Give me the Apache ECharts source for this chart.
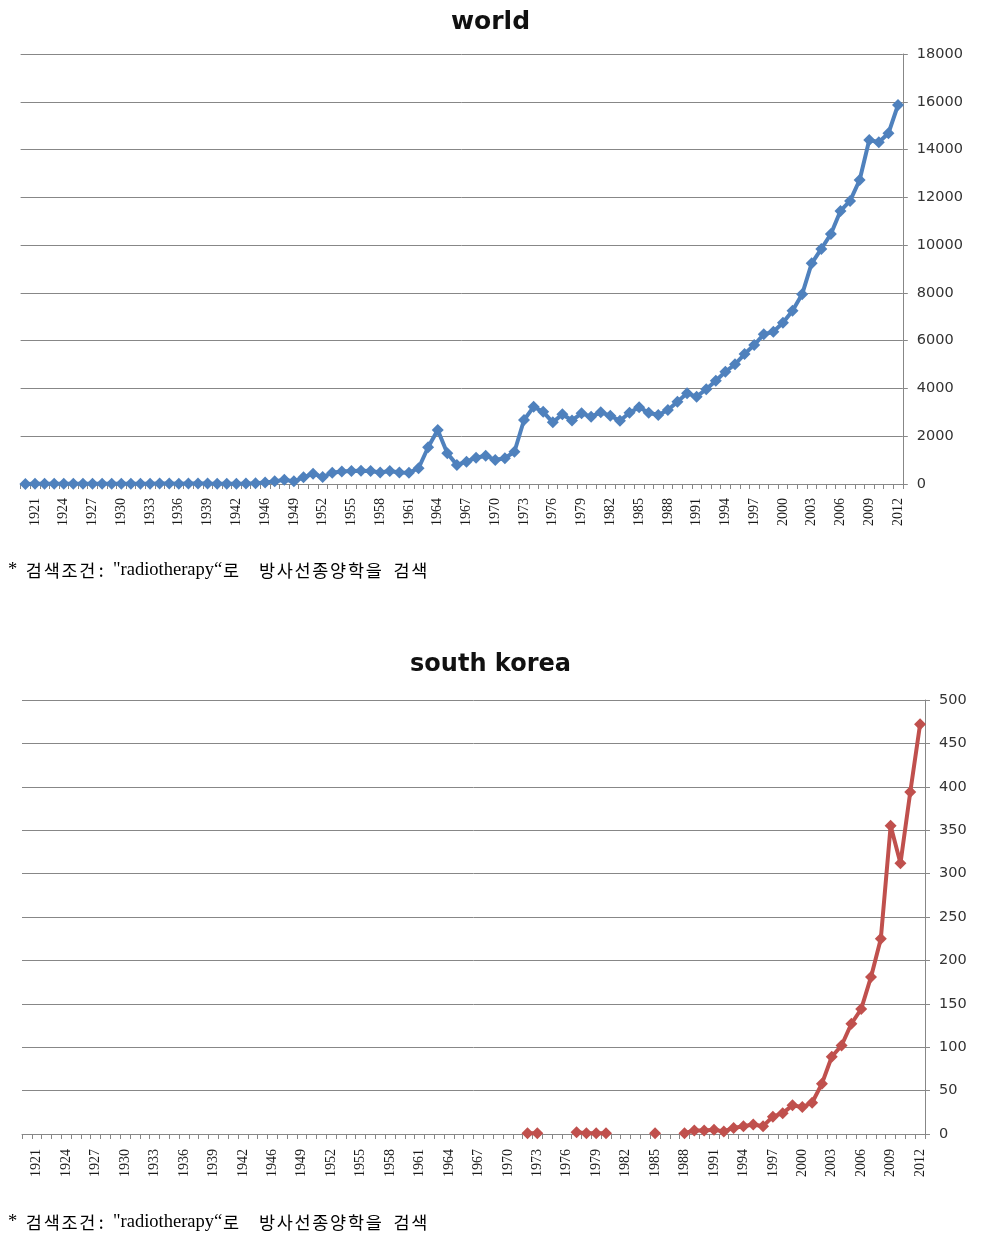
<!DOCTYPE html>
<html>
<head>
<meta charset="utf-8">
<script src="https://cdn.jsdelivr.net/npm/echarts@6/dist/echarts.min.js"></script>
<style>
html,body{margin:0;padding:0;background:#fff;}
#c{width:981px;height:1241px;}
</style>
</head>
<body>
<div id="c"></div>
<script>
// Categories (years; one wartime year absent in source data)
const years = [
'1920','1921','1922','1923','1924','1925','1926','1927','1928','1929',
'1930','1931','1932','1933','1934','1935','1936','1937','1938','1939',
'1940','1941','1942','1943','1945','1946','1947','1948','1949','1950',
'1951','1952','1953','1954','1955','1956','1957','1958','1959','1960',
'1961','1962','1963','1964','1965','1966','1967','1968','1969','1970',
'1971','1972','1973','1974','1975','1976','1977','1978','1979','1980',
'1981','1982','1983','1984','1985','1986','1987','1988','1989','1990',
'1991','1992','1993','1994','1995','1996','1997','1998','1999','2000',
'2001','2002','2003','2004','2005','2006','2007','2008','2009','2010',
'2011','2012'];

const worldValues = [
5,8,6,9,10,8,11,12,10,13,
14,12,15,14,16,18,15,17,19,16,
14,12,15,20,30,60,110,180,110,280,
430,290,470,520,545,550,545,480,540,480,
470,660,1540,2260,1290,800,935,1100,1185,1005,
1080,1350,2680,3230,3020,2580,2920,2660,2960,2820,
3000,2860,2650,2985,3210,2985,2890,3100,3445,3795,
3655,3965,4325,4700,5010,5440,5820,6265,6375,6750,
7255,7940,9240,9840,10465,11430,11850,12725,14400,14305,
14680,15865];

const koreaValues = [
null,null,null,null,null,null,null,null,null,null,
null,null,null,null,null,null,null,null,null,null,
null,null,null,null,null,null,null,null,null,null,
null,null,null,null,null,null,null,null,null,null,
null,null,null,null,null,null,null,null,null,null,
null,1,1,null,null,null,2,1,1,1,
null,null,null,null,1,null,null,1,4,4,
5,3,7,9,11,9,20,24,33,31,
36,58,89,102,127,144,181,225,355,312,
394,472];

const worldTicks = {min:0, max:18000, interval:2000};
const koreaTicks = {min:0, max:500, interval:50};

const titles = ['world','south korea'];
// caption split into its runs (Latin / Hangul / gaps)
const captionParts = ['*', ' ', '검색조건', ':', ' ', '"radiotherapy“', '로', ' ', '방사선종양학을', ' ', '검색'];
const captionRuns  = ['l', 's1', 'h', 'c', 's2', 'l', 'h', 's3', 'h', 's4', 'h'];

const gridGray = '#878787';
const chart = echarts.init(document.getElementById('c'), null, {renderer:'canvas'});

function xAx(gridIndex, margin){
  return {
    type:'category', gridIndex, data:years, boundaryGap:true,
    axisLine:{show:true, lineStyle:{color:gridGray, width:1}},
    axisTick:{show:true, interval:0, length:5, lineStyle:{color:gridGray}},
    axisLabel:{interval:function(i){return i % 3 === 1;}, rotate:90, margin:margin,
      fontFamily:'"Liberation Serif", serif', fontSize:14, color:'#1a1a1a'},
    splitLine:{show:false}
  };
}
function yAx(gridIndex, t, margin){
  return {
    type:'value', gridIndex, position:'right', min:t.min, max:t.max, interval:t.interval,
    axisLine:{show:true, lineStyle:{color:gridGray, width:1}},
    axisTick:{show:true, length:5, lineStyle:{color:gridGray}},
    axisLabel:{margin:margin, formatter:function(v){return String(v);},
      fontFamily:'"DejaVu Sans", sans-serif', fontSize:14.5, color:'#333'},
    splitLine:{show:true, lineStyle:{color:gridGray, width:1}}
  };
}

const serif = '"Liberation Serif", serif';
const kfont = '"Noto Sans CJK KR", sans-serif';
const captionRich = {
  l:{fontFamily:serif, fontSize:18.5, color:'#111', lineHeight:22},
  h:{fontFamily:kfont, fontSize:17.5, color:'#111', lineHeight:22, width:17.8, align:'center'},
  c:{fontFamily:kfont, fontSize:17.5, color:'#111', lineHeight:22, width:10, align:'center'},
  s1:{fontFamily:serif, fontSize:17, width:7.75, lineHeight:22},
  s2:{fontFamily:serif, fontSize:17, width:6.8, lineHeight:22},
  s3:{fontFamily:serif, fontSize:17, width:18, lineHeight:22},
  s4:{fontFamily:serif, fontSize:17, width:10, lineHeight:22}
};
// Hangul runs are laid out one syllable per fixed-width cell (Batang-like spacing)
const captionText = captionParts.map(function(p,i){
  const r = captionRuns[i];
  if (r === 'h') return p.split('').map(function(ch){return '{h|' + ch + '}';}).join('');
  return '{' + r + '|' + p + '}';
}).join('');

function titleOpt(text, top, size){
  return {text:text, left:'center', top:top,
    textStyle:{fontFamily:'"DejaVu Sans", sans-serif', fontWeight:'bold', fontSize:size, color:'#111'}};
}

const option = {
  animation:false,
  backgroundColor:'#fff',
  title:[titleOpt(titles[0], 5, 25), titleOpt(titles[1], 648, 24)],
  grid:[
    {left:20.6, width:882.2, top:54, height:430},
    {left:22, width:903, top:700, height:434}
  ],
  xAxis:[xAx(0,14), xAx(1,15)],
  yAxis:[yAx(0,worldTicks,14), yAx(1,koreaTicks,14)],
  series:[
    {type:'line', name:'world', xAxisIndex:0, yAxisIndex:0, data:worldValues,
     symbol:'diamond', symbolSize:12, showAllSymbol:true, connectNulls:false,
     lineStyle:{color:'#4F81BD', width:4}, itemStyle:{color:'#4F81BD'}},
    {type:'line', name:'south korea', xAxisIndex:1, yAxisIndex:1, data:koreaValues,
     symbol:'diamond', symbolSize:12, showAllSymbol:true, connectNulls:false,
     lineStyle:{color:'#C0504D', width:4}, itemStyle:{color:'#C0504D'}}
  ],
  graphic:[
    {type:'text', left:8, top:561, style:{text:captionText, rich:captionRich}},
    {type:'text', left:8, top:1213, style:{text:captionText, rich:captionRich}}
  ]
};
chart.setOption(option);
</script>
</body>
</html>
